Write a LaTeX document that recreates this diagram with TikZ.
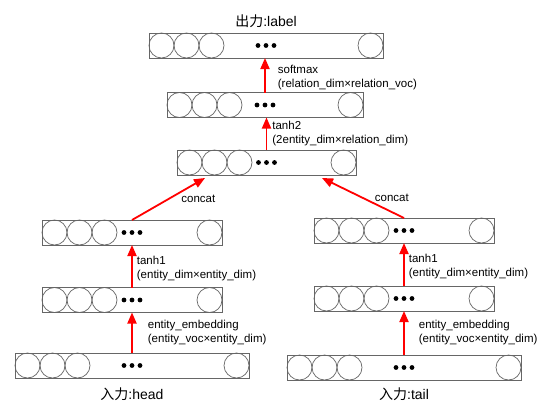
\documentclass[tikz,border=0pt]{standalone}
\usepackage{fontspec}
\setmainfont{Liberation Sans}
\newfontfamily\cjk{Noto Sans CJK SC}
\usetikzlibrary{positioning,arrows.meta}

% one layer: box, three units on the left, one on the right, dots in the middle
\newcommand{\layer}[4]{%
    \node[layerbox, minimum width=#4] (#1) at (#2,#3) {};
    \node[unit, anchor=west] (#1-1) at (#1.west) {};
    \node[unit, right=0pt of #1-1] (#1-2) {};
    \node[unit, right=0pt of #1-2] (#1-3) {};
    \node[unit, anchor=east] (#1-4) at (#1.east) {};
    \foreach \k in {-8,0,8}
        \fill ([xshift=\k pt]#1.center) circle (2.4pt);
}

\begin{document}
\begin{tikzpicture}[x=1pt,y=-1pt]
        \tikzstyle{layerbox}=[draw=black!60, line width=0.8pt, minimum height=25pt, inner sep=0pt, outer sep=0pt];
        \tikzstyle{unit}=[draw=black!60, line width=0.7pt, shape=circle, minimum size=25pt, inner sep=0pt, outer sep=0pt];
        \tikzstyle{flow}=[draw=red, line width=1.8pt, -{Triangle[length=11pt,width=9pt]}];
        \tikzstyle{note}=[font=\fontsize{11.5}{14}\selectfont, align=left, anchor=west, inner sep=0pt];
        \tikzstyle{title}=[font=\fontsize{14}{16}\selectfont, inner sep=2pt];
        \useasboundingbox (0,0) rectangle (540,404);

        % layers
        \layer{out}{266}{45.5}{234}
        \layer{hid}{265}{105}{196}
        \layer{cat}{266.5}{162.5}{179}
        \layer{lhA}{132}{232.5}{180}
        \layer{lhB}{132}{300}{180}
        \layer{lin}{132}{365.5}{234}
        \layer{rhA}{404}{230.5}{180}
        \layer{rhB}{404}{298.5}{180}
        \layer{rin}{404}{367.5}{234}

        % titles
        \node[title, above=3pt of out] (outname) {{\cjk 出力}:label};
        \node[title, below=8pt of lin] (headname) {{\cjk 入力}:head};
        \node[title, below=6pt of rin] (tailname) {{\cjk 入力}:tail};

        % connections
        \draw[flow] (hid.north) -- (hid.north |- out.south)
            node[note, midway, xshift=12pt, yshift=-2pt] (softmaxlbl) {softmax\\(relation\_dim×relation\_voc)};
        \draw[flow] (cat.north) -- (cat.north |- hid.south)
            node[note, midway, xshift=5pt] (tanhBlbl) {tanh2\\(2entity\_dim×relation\_dim)};
        \draw[flow] (lhA.north) -- ([xshift=28pt,yshift=-3pt]cat.south west)
            node[note, midway, xshift=12pt] (lcatlbl) {concat};
        \draw[flow] (rhA.north) -- ([xshift=-34pt,yshift=-3pt]cat.south east)
            node[note, midway, xshift=11pt] (rcatlbl) {concat};
        \draw[flow] (lhB.north) -- (lhB.north |- lhA.south)
            node[note, midway, xshift=4pt, yshift=-2pt] (ltanhlbl) {tanh1\\(entity\_dim×entity\_dim)};
        \draw[flow] (rhB.north) -- (rhB.north |- rhA.south)
            node[note, midway, xshift=4pt, yshift=-2pt] (rtanhlbl) {tanh1\\(entity\_dim×entity\_dim)};
        \draw[flow] (lin.north) -- (lin.north |- lhB.south)
            node[note, midway, xshift=15pt] (lembedlbl) {entity\_embedding\\(entity\_voc×entity\_dim)};
        \draw[flow] (rin.north) -- (rin.north |- rhB.south)
            node[note, midway, xshift=14pt] (rembedlbl) {entity\_embedding\\(entity\_voc×entity\_dim)};
    \end{tikzpicture}
\end{document}
